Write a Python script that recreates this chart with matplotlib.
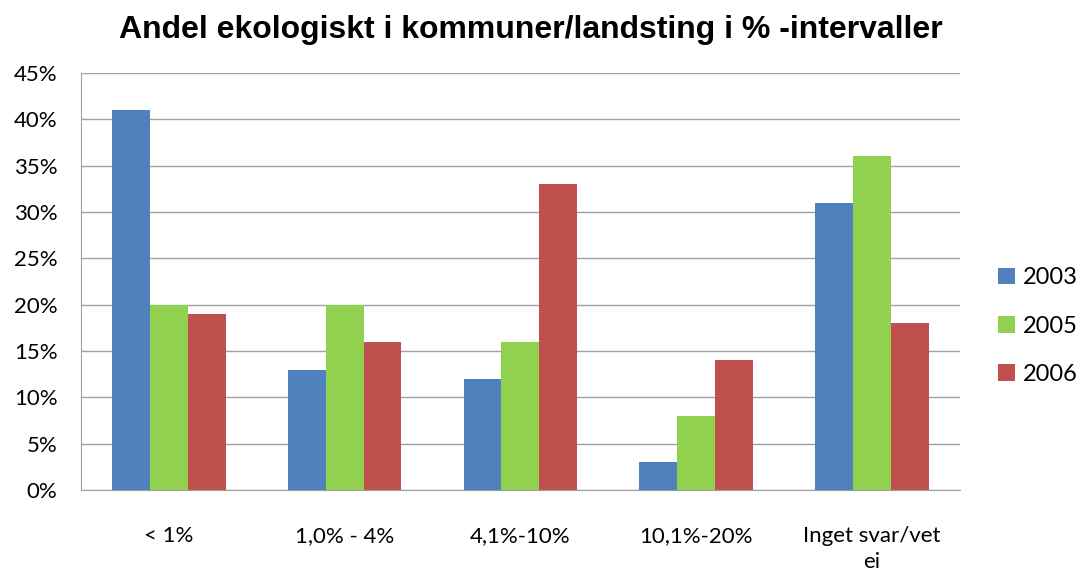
import matplotlib
matplotlib.use("Agg")
import matplotlib.pyplot as plt
import numpy as np

categories = ["< 1%", "1,0% - 4%", "4,1%-10%", "10,1%-20%", "Inget svar/vet\nei"]
years = ["2003", "2005", "2006"]
v2003 = [41, 13, 12, 3, 31]
v2005 = [20, 20, 16, 8, 36]
v2006 = [19, 16, 33, 14, 18]
colors = ["#4F81BD", "#92D050", "#C0504D"]

plt.rcParams["font.family"] = ["Lato", "DejaVu Sans"]

fig = plt.figure(figsize=(10.81, 5.73), dpi=100)
ax = fig.add_axes([0.0749, 0.1449, 0.813, 0.7277])

x = np.arange(len(categories))
w = 0.215
for i, (vals, lab) in enumerate(zip([v2003, v2005, v2006], years)):
    ax.bar(x + (i - 1) * w, vals, w, color=colors[i], label=lab, zorder=3)

ax.set_xlim(-0.5, len(categories) - 0.5)
ax.set_ylim(0, 45)
ax.set_yticks(range(0, 46, 5))
ax.set_yticklabels([f"{t}%" for t in range(0, 46, 5)], fontsize=16)
ax.set_xticks(x)
ax.set_xticklabels(categories, fontsize=16, linespacing=1.4, va="top")
ax.tick_params(axis="x", length=0, pad=26)
ax.tick_params(axis="y", length=0, pad=17)
ax.yaxis.grid(True, color="#A0A0A0", linewidth=1, zorder=0)
for s in ["top", "right"]:
    ax.spines[s].set_visible(False)
for s in ["left", "bottom"]:
    ax.spines[s].set_color("#A0A0A0")
    ax.spines[s].set_zorder(4)

title = "Andel ekologiskt i kommuner/landsting i % -intervaller"
fig.text(0.491, 0.948, title, ha="center", va="center", fontsize=23,
         fontweight="bold", family=["Liberation Sans", "DejaVu Sans"])

ax.legend(loc="center left", bbox_to_anchor=(1.025, 0.393), frameon=False,
          fontsize=17, handlelength=0.7, handleheight=0.7, labelspacing=1.15,
          handletextpad=0.35, borderaxespad=0.3)

fig.savefig("out.png", dpi=100)
